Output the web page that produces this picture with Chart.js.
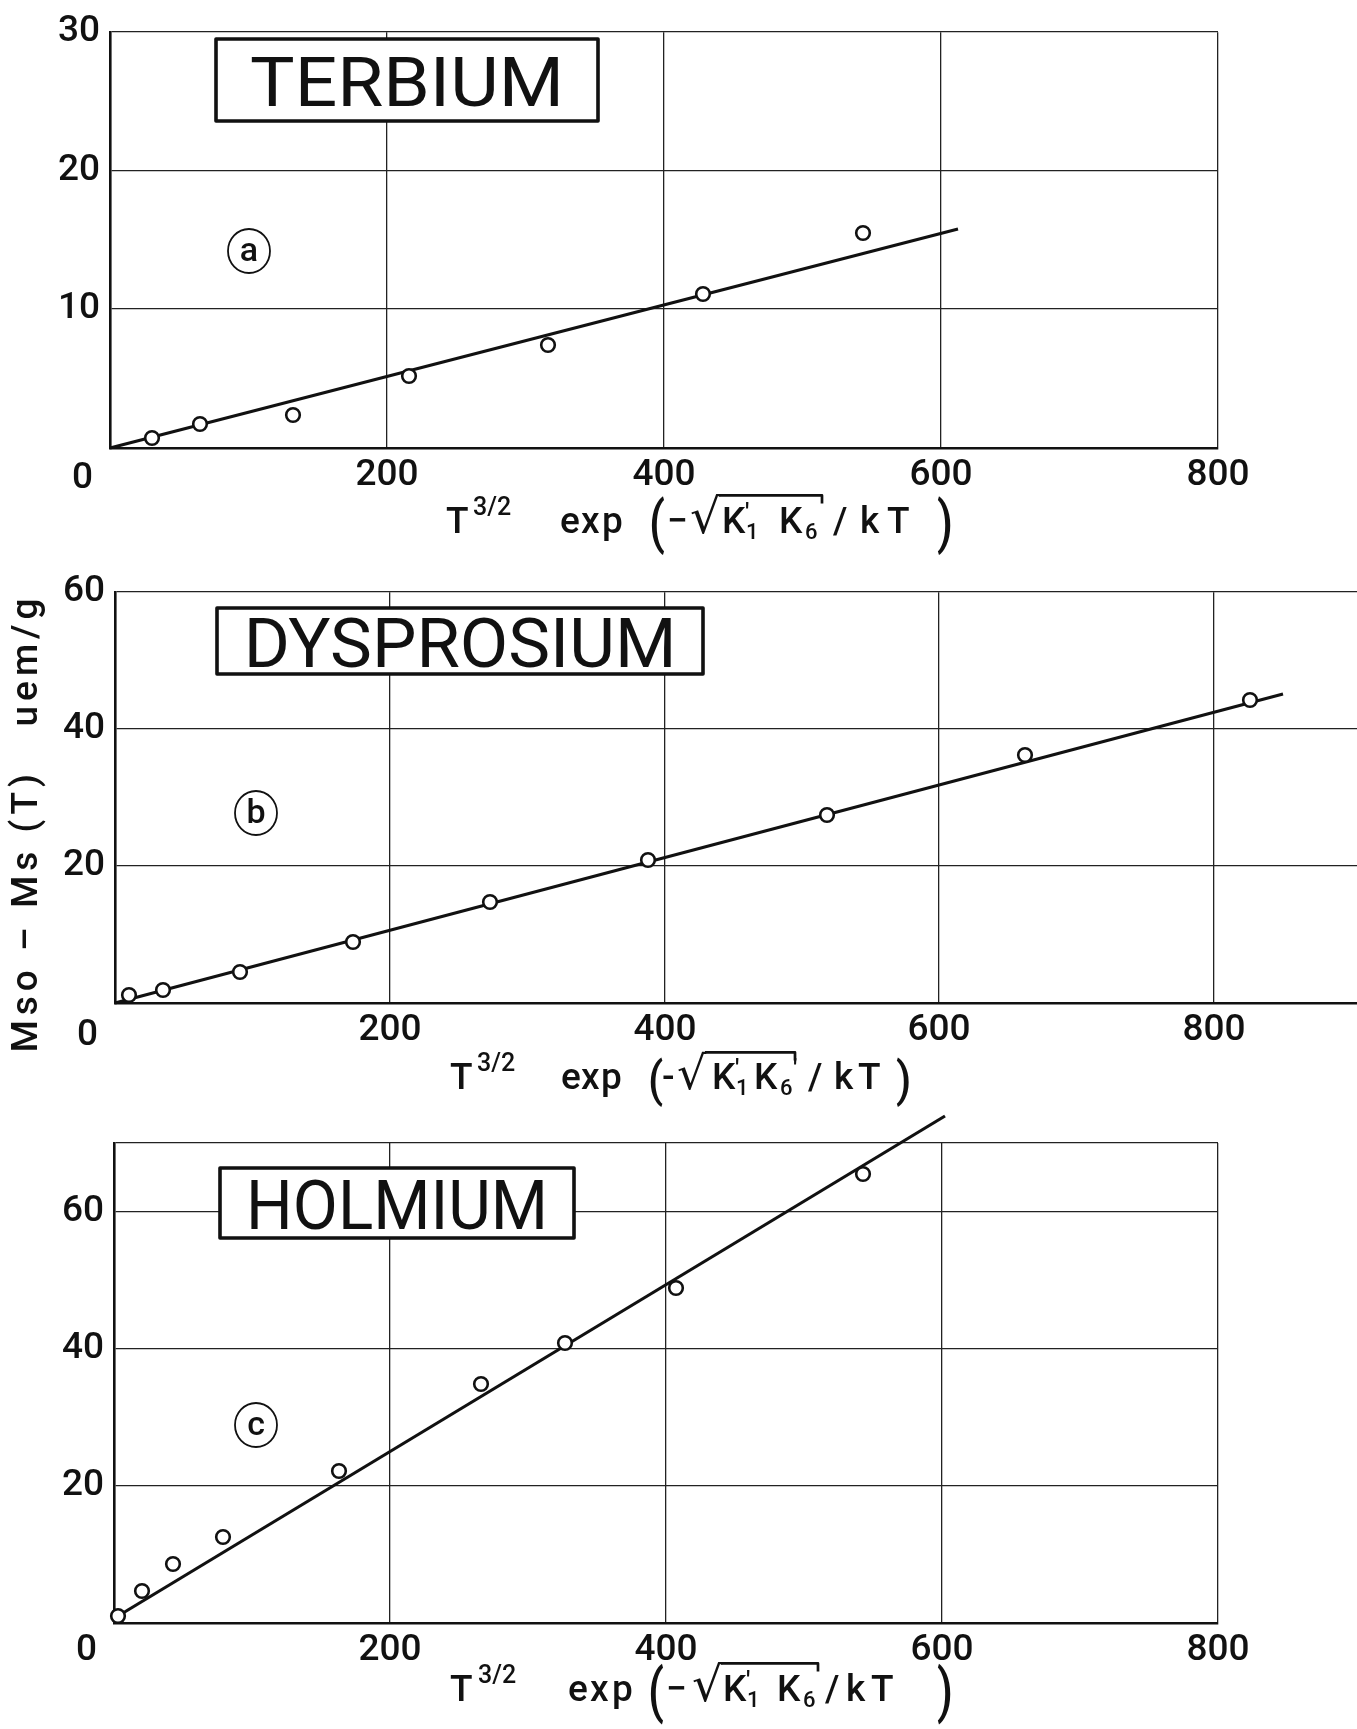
<!DOCTYPE html>
<html>
<head>
<meta charset="utf-8">
<title>Mso - Ms(T) versus T^3/2 exp(-sqrt(K1'K6)/kT) : Tb, Dy, Ho</title>
<script src="https://cdn.jsdelivr.net/npm/chart.js@4.4.1/dist/chart.umd.min.js"></script>
<style>
  html, body { margin: 0; padding: 0; background: #fff; overflow: hidden; width: 1357px; height: 1729px; }
  canvas { position: absolute; left: 0; display: block; }
  #chartA { top: 0; }
  #chartB { top: 560px; }
  #chartC { top: 1095px; }
</style>
</head>
<body>
<canvas id="chartA" width="1357" height="560"></canvas>
<canvas id="chartB" width="1400" height="560"></canvas>
<canvas id="chartC" width="1357" height="634"></canvas>
<script>
// ---- measured points: Mso - Ms(T) (uem/g) against T^3/2 exp(-sqrt(K1'K6)/kT) ----
const terbiumX = [30, 65, 132, 216, 316, 428, 544];
const terbiumY = [0.7, 1.7, 2.4, 5.2, 7.4, 11.1, 15.5];
const terbiumFitX = [0, 612];
const terbiumFitY = [0, 15.8];

const dysprosiumX = [10, 35, 91, 173, 273, 388, 518, 662, 826];
const dysprosiumY = [1.1, 1.9, 4.6, 8.9, 14.7, 20.9, 27.5, 36.2, 44.2];
const dysprosiumFitX = [0, 850];
const dysprosiumFitY = [0, 45.2];

const holmiumX = [3, 20, 43, 79, 163, 266, 327, 407, 543];
const holmiumY = [1.0, 4.7, 8.6, 12.6, 22.2, 34.8, 40.8, 48.9, 65.5];
const holmiumFitX = [3, 602];
const holmiumFitY = [1.0, 74.0];

// ---- axis ticks ----
const xTickValues = [0, 200, 400, 600, 800];
const xTickLabels = ['0', '200', '400', '600', '800'];
const yTickValuesA = [0, 10, 20, 30];
const yTickLabelsA = ['0', '10', '20', '30'];
const yTickValuesB = [0, 20, 40, 60];
const yTickLabelsB = ['0', '20', '40', '60'];
const yTickValuesC = [0, 20, 40, 60, 70];
const yTickLabelsC = ['0', '20', '40', '60', ''];

const elementNames = ['TERBIUM', 'DYSPROSIUM', 'HOLMIUM'];
const panelLetters = ['a', 'b', 'c'];
const yAxisTitle = 'Mso \u2013 Ms (T)   uem/g';

const INK = '#111';
const FONT = 'Roboto, "Liberation Sans", "DejaVu Sans", sans-serif';

function toPoints(xs, ys) { return xs.map((x, i) => ({ x: x, y: ys[i] })); }

// x-axis formula: T^3/2 exp( -sqrt(K1' K6) / kT ), laid out piece by piece
function drawXTitle(ctx, x0, y0, pieces) {
  for (const p of pieces) {
    ctx.save();
    ctx.fillStyle = INK;
    ctx.strokeStyle = INK;
    ctx.textAlign = 'left';
    ctx.textBaseline = 'alphabetic';
    const px = x0 + p.x, py = y0 + (p.dy || 0);
    if (p.rad) {
      ctx.font = '400 ' + (p.size || 48) + 'px "DejaVu Sans", sans-serif';
      const m = ctx.measureText('\u221A');
      ctx.fillText('\u221A', px, py);
      const top = py - m.actualBoundingBoxAscent + 1.4;
      ctx.lineWidth = 2.7;
      ctx.lineCap = 'butt';
      ctx.beginPath();
      ctx.moveTo(px + m.actualBoundingBoxRight - 2, top);
      ctx.lineTo(x0 + p.end, top);
      ctx.lineTo(x0 + p.end, top + 8);
      ctx.stroke();
    } else {
      ctx.font = '500 ' + (p.size || 37) + 'px ' + FONT;
      if (p.sy) {
        ctx.translate(px, py);
        ctx.scale(1, p.sy);
        ctx.fillText(p.t, 0, 0);
      } else {
        ctx.fillText(p.t, px, py);
      }
    }
    ctx.restore();
  }
}

function makeDecor(d) {
  return {
    id: 'decor' + d.letter,
    afterDraw(chart) {
      const ctx = chart.ctx, ca = chart.chartArea;
      const xs = chart.scales.x, ys = chart.scales.y;
      ctx.save();
      // element name in a framed box
      const bx1 = xs.getPixelForValue(d.box[0]), bx2 = xs.getPixelForValue(d.box[1]);
      const by1 = ys.getPixelForValue(d.box[3]), by2 = ys.getPixelForValue(d.box[2]);
      ctx.fillStyle = '#fff';
      ctx.fillRect(bx1, by1, bx2 - bx1, by2 - by1);
      ctx.lineWidth = 3.6;
      ctx.strokeStyle = INK;
      ctx.lineJoin = 'round';
      ctx.strokeRect(bx1, by1, bx2 - bx1, by2 - by1);
      ctx.fillStyle = INK;
      ctx.font = '400 68px ' + FONT;
      const m = ctx.measureText(d.name);
      const sx = d.nameWidth / (m.actualBoundingBoxRight + m.actualBoundingBoxLeft);
      ctx.save();
      ctx.translate((bx1 + bx2) / 2, (by1 + by2) / 2 + m.actualBoundingBoxAscent / 2 + 1);
      ctx.scale(sx, 1);
      ctx.textAlign = 'center';
      ctx.textBaseline = 'alphabetic';
      ctx.fillText(d.name, 0, 0);
      ctx.restore();

      // circled panel letter
      const cx = xs.getPixelForValue(d.tag[0]), cy = ys.getPixelForValue(d.tag[1]);
      ctx.beginPath();
      ctx.ellipse(cx, cy, 21, 22, 0, 0, Math.PI * 2);
      ctx.lineWidth = 1.8;
      ctx.stroke();
      ctx.font = '500 34px ' + FONT;
      ctx.textAlign = 'center';
      ctx.textBaseline = 'middle';
      ctx.fillText(d.letter, cx, cy + 1);

      // common origin label
      ctx.font = '500 37px ' + FONT;
      ctx.textAlign = 'right';
      ctx.textBaseline = 'middle';
      ctx.fillText(xTickLabels[0], ca.left - 17, ca.bottom + d.zeroDy);

      drawXTitle(ctx, ca.left + d.titleX, ca.bottom + d.titleY, d.pieces);

      if (d.yTitle) {
        ctx.save();
        ctx.translate(d.yTitleAt[0], d.yTitleAt[1]);
        ctx.rotate(-Math.PI / 2);
        ctx.font = '500 37px ' + FONT;
        ctx.letterSpacing = '5px';
        ctx.textAlign = 'center';
        ctx.textBaseline = 'middle';
        ctx.fillText(d.yTitle, 0, 0);
        ctx.restore();
      }
      ctx.restore();
    }
  };
}

function buildChart(id, cfg) {
  const tickFont = { family: FONT, size: 37, weight: 500 };
  const band = 64; // room under the plot for the x tick labels
  return new Chart(document.getElementById(id), {
    type: 'scatter',
    data: {
      datasets: [
        {
          data: cfg.points,
          showLine: false,
          pointRadius: 6.8,
          pointBorderWidth: 2.6,
          pointBackgroundColor: '#fff',
          pointBorderColor: INK,
          clip: false
        },
        {
          data: cfg.fit,
          showLine: true,
          pointRadius: 0,
          borderColor: INK,
          borderWidth: 3.2,
          fill: false,
          clip: false
        }
      ]
    },
    options: {
      responsive: false,
      animation: false,
      devicePixelRatio: 1,
      events: [],
      layout: { padding: { left: 0, top: cfg.area.top, right: cfg.area.right, bottom: cfg.area.bottom - band } },
      plugins: { legend: { display: false }, tooltip: { enabled: false } },
      scales: {
        x: {
          type: 'linear',
          min: 0,
          max: cfg.xMax,
          alignToPixels: true,
          afterFit(s) { s.height = band; },
          afterBuildTicks(s) { s.ticks = xTickValues.map(v => ({ value: v })); },
          grid: { color: '#222', lineWidth: 1.3, drawTicks: false },
          border: { display: true, color: INK, width: 2.6 },
          ticks: {
            autoSkip: false, maxRotation: 0, minRotation: 0, padding: 6, color: INK, font: tickFont,
            callback: (v, i) => (i === 0 ? '' : xTickLabels[i])
          }
        },
        y: {
          type: 'linear',
          min: 0,
          max: cfg.yMax,
          alignToPixels: true,
          afterFit(s) { s.width = cfg.area.left; },
          afterBuildTicks(s) { s.ticks = cfg.yValues.map(v => ({ value: v })); },
          grid: { color: '#222', lineWidth: 1.3, drawTicks: false },
          border: { display: true, color: INK, width: 2.6 },
          ticks: {
            autoSkip: false, padding: 10, color: INK, font: tickFont,
            callback: (v, i) => (i === 0 ? '' : cfg.yLabels[i])
          }
        }
      }
    },
    plugins: [makeDecor(cfg.decor)]
  });
}

const piecesA = [
  { t: 'T', x: 0 }, { t: '3/2', x: 27, size: 25, dy: -18 },
  { t: 'e', x: 114 }, { t: 'x', x: 135 }, { t: 'p', x: 156 },
  { t: '(', x: 203, size: 46, sy: 1.23, dy: 9 }, { t: '\u2212', x: 221 },
  { rad: true, x: 244, end: 376 },
  { t: 'K', x: 276 }, { t: '\u2032', x: 299, size: 26, dy: -12 }, { t: '1', x: 300, size: 22, dy: 6 },
  { t: 'K', x: 333 }, { t: '6', x: 359, size: 22, dy: 6 },
  { t: '/', x: 387 }, { t: 'k', x: 414 }, { t: 'T', x: 441 },
  { t: ')', x: 491, size: 46, sy: 1.23, dy: 9 }
];
const piecesB = [
  { t: 'T', x: 0 }, { t: '3/2', x: 27, size: 25, dy: -18 },
  { t: 'e', x: 111 }, { t: 'x', x: 131 }, { t: 'p', x: 151 },
  { t: '(', x: 198, size: 44, sy: 1.1, dy: 7 }, { t: '-', x: 212 },
  { rad: true, x: 227, end: 345, size: 46 },
  { t: 'K', x: 262 }, { t: '\u2032', x: 285, size: 26, dy: -12 }, { t: '1', x: 286, size: 22, dy: 6 },
  { t: 'K', x: 304 }, { t: '6', x: 330, size: 22, dy: 6 }, { t: '\u2032', x: 343, size: 26, dy: -12 },
  { t: '/', x: 358 }, { t: 'k', x: 384 }, { t: 'T', x: 408 },
  { t: ')', x: 446, size: 44, sy: 1.1, dy: 7 }
];
const piecesC = [
  { t: 'T', x: 0 }, { t: '3/2', x: 28, size: 25, dy: -18 },
  { t: 'e', x: 118 }, { t: 'x', x: 140 }, { t: 'p', x: 162 },
  { t: '(', x: 198, size: 46, sy: 1.3, dy: 10 }, { t: '\u2212', x: 216 },
  { rad: true, x: 242, end: 368 },
  { t: 'K', x: 273 }, { t: '\u2032', x: 296, size: 26, dy: -12 }, { t: '1', x: 297, size: 22, dy: 6 },
  { t: 'K', x: 327 }, { t: '6', x: 353, size: 22, dy: 6 },
  { t: '/', x: 375 }, { t: 'k', x: 396 }, { t: 'T', x: 421 },
  { t: ')', x: 487, size: 46, sy: 1.3, dy: 10 }
];

buildChart('chartA', {
  points: toPoints(terbiumX, terbiumY),
  fit: toPoints(terbiumFitX, terbiumFitY),
  xMax: 800, yMax: 30,
  yValues: yTickValuesA, yLabels: yTickLabelsA,
  area: { left: 110, top: 32, right: 139, bottom: 112 },
  decor: {
    name: elementNames[0], nameWidth: 307, box: [76.5, 352, 23.6, 29.5],
    letter: panelLetters[0], tag: [100, 14.2],
    zeroDy: 31, titleX: 336, titleY: 85, pieces: piecesA
  }
});

buildChart('chartB', {
  points: toPoints(dysprosiumX, dysprosiumY),
  fit: toPoints(dysprosiumFitX, dysprosiumFitY),
  xMax: 920, yMax: 60,
  yValues: yTickValuesB, yLabels: yTickLabelsB,
  area: { left: 115, top: 30, right: 21, bottom: 117 },
  decor: {
    name: elementNames[1], nameWidth: 422, box: [74, 428, 48.1, 57.7],
    letter: panelLetters[1], tag: [102.6, 27.7],
    zeroDy: 33, titleX: 335, titleY: 86, pieces: piecesB,
    yTitle: yAxisTitle, yTitleAt: [28, 263]
  }
});

buildChart('chartC', {
  points: toPoints(holmiumX, holmiumY),
  fit: toPoints(holmiumFitX, holmiumFitY),
  xMax: 800, yMax: 70,
  yValues: yTickValuesC, yLabels: yTickLabelsC,
  area: { left: 114, top: 48, right: 139, bottom: 106 },
  decor: {
    name: elementNames[2], nameWidth: 292, box: [77, 333, 56.1, 66.3],
    letter: panelLetters[2], tag: [103, 28.9],
    zeroDy: 28, titleX: 336, titleY: 78, pieces: piecesC
  }
});
</script>
</body>
</html>
